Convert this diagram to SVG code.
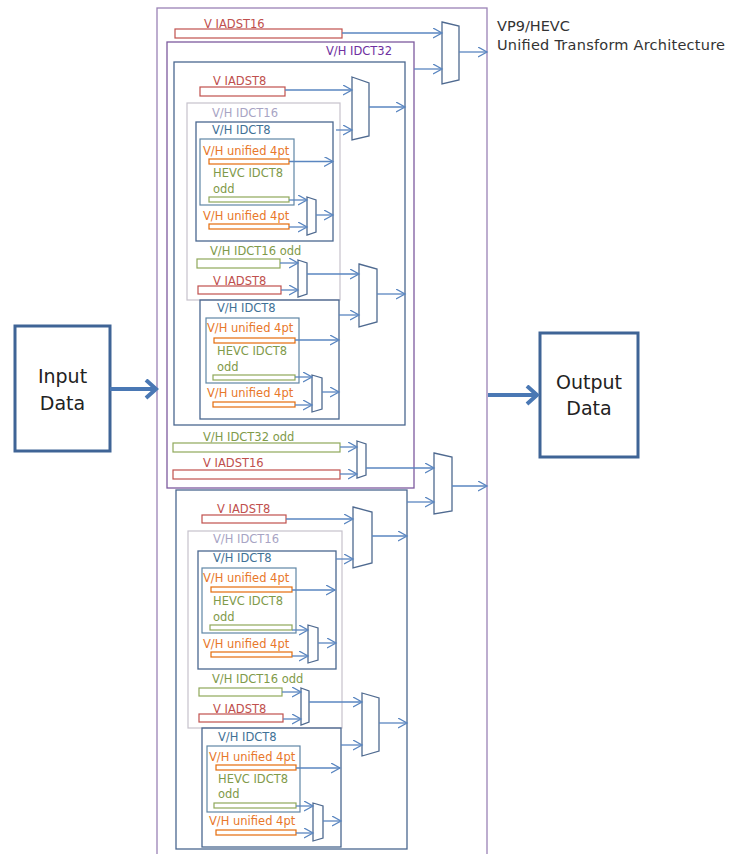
<svg xmlns="http://www.w3.org/2000/svg" width="730" height="854" viewBox="0 0 730 854">
<defs>
<marker id="ah" markerUnits="userSpaceOnUse" markerWidth="12" markerHeight="12" refX="9" refY="5" orient="auto" viewBox="0 0 12 12">
<path d="M0,0 L9,5 L0,10" fill="none" stroke="#5a86c0" stroke-width="1.3"/>
</marker>
<marker id="ahb" markerUnits="userSpaceOnUse" markerWidth="20" markerHeight="24" refX="13" refY="10" orient="auto" viewBox="0 0 20 24">
<path d="M3,1 L13,10 L3,19" fill="none" stroke="#4a78b4" stroke-width="4" stroke-linejoin="miter"/>
</marker>
</defs>
<style>
text{font-family:"DejaVu Sans","Liberation Sans",sans-serif;font-size:11.5px}
.outer{fill:none;stroke:#9a82b6;stroke-width:1.3}
.p32{fill:none;stroke:#7d5a9e;stroke-width:1.3}
.bx{fill:none;stroke:#4a6790;stroke-width:1.3}
.b16{fill:none;stroke:#c6c2cc;stroke-width:1.2}
.ub{fill:none;stroke:#5f86a6;stroke-width:1.2}
.rb{fill:#fff;stroke:#c0504d;stroke-width:1.2}
.ob{fill:#fff;stroke:#e46c0a;stroke-width:1.2}
.gb{fill:#fff;stroke:#8fa85a;stroke-width:1.2}
.mux{fill:#fff;stroke:#4f6a90;stroke-width:1.3}
.tr{fill:#c0504d}
.to{fill:#e8782a}
.tg{fill:#7f9a4a}
.tp{fill:#7030a0}
.t16{fill:#a8a4c4}
.t8{fill:#3f7196}
.io{fill:#fff;stroke:#3f6496;stroke-width:3}
.iot{font-size:19px;fill:#222;text-anchor:middle}
.ttl{font-size:14.5px;fill:#333}
#conn line{stroke:#5a86c0;stroke-width:1.3;marker-end:url(#ah)}
#conn line.big{stroke:#4a78b4;stroke-width:4;marker-end:url(#ahb)}
</style>

<g id="outer-box">
<rect class="outer" x="157" y="8" width="330" height="870"/>
</g>
<g id="title">
<text class="ttl" x="497" y="31">VP9/HEVC</text>
<text class="ttl" x="497" y="50" textLength="228" lengthAdjust="spacing">Unified Transform Architecture</text>
</g>

<g id="input-data">
<rect class="io" x="15" y="326" width="95" height="125"/>
<text class="iot" x="62.5" y="383">Input</text>
<text class="iot" x="62.5" y="410">Data</text>
</g>
<g id="output-data">
<rect class="io" x="540" y="333" width="98" height="124"/>
<text class="iot" x="589" y="389">Output</text>
<text class="iot" x="589" y="415">Data</text>
</g>

<g id="v-iadst16-top">
<rect class="rb" x="175" y="29" width="167" height="9"/>
<text class="tr" x="204" y="28">V IADST16</text>
</g>
<g id="mux-top">
<polygon class="mux" points="442,22 459,26 459,80 442,84"/>
</g>

<g id="idct32">
<rect class="p32" x="167" y="42" width="247" height="446"/>
<text class="tp" x="326" y="55">V/H IDCT32</text>
</g>

<g id="box-a">
<rect class="bx" x="174" y="62" width="231" height="363"/>
</g>
<g id="a-iadst8">
<rect class="rb" x="200" y="87" width="85" height="9"/>
<text class="tr" x="213" y="85">V IADST8</text>
</g>
<g id="a-mux2"><polygon class="mux" points="352,77 369,83 369,136 352,140"/></g>
<g id="a-idct16">
<rect class="b16" x="187" y="103" width="153" height="197"/>
<text class="t16" x="212" y="117">V/H IDCT16</text>
</g>
<g id="a-idct8">
<rect class="bx" x="196" y="122" width="137" height="119"/>
<text class="t8" x="212" y="134">V/H IDCT8</text>
</g>
<g id="a-unified">
<rect class="ub" x="200" y="139" width="94" height="66"/>
<text class="to" x="203" y="155">V/H unified 4pt</text>
<rect class="ob" x="209" y="159" width="80" height="5"/>
<text class="tg" x="213" y="177">HEVC IDCT8</text>
<text class="tg" x="213" y="193">odd</text>
<rect class="gb" x="209" y="197" width="80" height="5"/>
</g>
<g id="a-unified4b">
<text class="to" x="203" y="220">V/H unified 4pt</text>
<rect class="ob" x="209" y="224" width="80" height="5"/>
</g>
<g id="a-mux3"><polygon class="mux" points="307,197 316,200 316,232 307,235"/></g>
<g id="a-idct16odd">
<text class="tg" x="210" y="255">V/H IDCT16 odd</text>
<rect class="gb" x="197" y="259" width="83" height="9"/>
</g>
<g id="a-iadst8b">
<text class="tr" x="213" y="285">V IADST8</text>
<rect class="rb" x="198" y="286" width="83" height="8"/>
</g>
<g id="a-mux4"><polygon class="mux" points="298,260 307,263 307,294 298,297"/></g>
<g id="a-mux5"><polygon class="mux" points="359,264 377,269 377,322 359,327"/></g>
<g id="a-idct8b">
<rect class="bx" x="200" y="300" width="139" height="119"/>
<text class="t8" x="217" y="312">V/H IDCT8</text>
</g>
<g id="a-unifiedb">
<rect class="ub" x="206" y="318" width="93" height="65"/>
<text class="to" x="207" y="332">V/H unified 4pt</text>
<rect class="ob" x="214" y="338" width="81" height="5"/>
<text class="tg" x="217" y="355">HEVC IDCT8</text>
<text class="tg" x="217" y="371">odd</text>
<rect class="gb" x="213" y="375" width="82" height="5"/>
</g>
<g id="a-unified4d">
<text class="to" x="207" y="397">V/H unified 4pt</text>
<rect class="ob" x="213" y="402" width="82" height="5"/>
</g>
<g id="a-mux6"><polygon class="mux" points="312,375 322,378 322,409 312,412"/></g>

<g id="idct32odd">
<text class="tg" x="203" y="441">V/H IDCT32 odd</text>
<rect class="gb" x="173" y="443" width="167" height="9"/>
</g>
<g id="v-iadst16b">
<text class="tr" x="203" y="467">V IADST16</text>
<rect class="rb" x="173" y="470" width="167" height="9"/>
</g>
<g id="mux7"><polygon class="mux" points="357,441 366,444 366,475 357,478"/></g>
<g id="mux8"><polygon class="mux" points="434,453 452,457 452,511 434,514"/></g>

<g id="box-b">
<rect class="bx" x="176" y="490" width="231" height="359"/>
</g>
<g id="b-iadst8">
<text class="tr" x="217" y="513">V IADST8</text>
<rect class="rb" x="202" y="515" width="84" height="8"/>
</g>
<g id="b-mux9"><polygon class="mux" points="353,507 372,512 372,563 353,568"/></g>
<g id="b-idct16">
<rect class="b16" x="188" y="531" width="154" height="197"/>
<text class="t16" x="213" y="543">V/H IDCT16</text>
</g>
<g id="b-idct8">
<rect class="bx" x="198" y="551" width="138" height="118"/>
<text class="t8" x="213" y="562">V/H IDCT8</text>
</g>
<g id="b-unified">
<rect class="ub" x="202" y="568" width="94" height="65"/>
<text class="to" x="203" y="582">V/H unified 4pt</text>
<rect class="ob" x="211" y="587" width="81" height="5"/>
<text class="tg" x="213" y="605">HEVC IDCT8</text>
<text class="tg" x="213" y="621">odd</text>
<rect class="gb" x="210" y="625" width="82" height="5"/>
</g>
<g id="b-unified4b">
<text class="to" x="203" y="648">V/H unified 4pt</text>
<rect class="ob" x="211" y="652" width="81" height="5"/>
</g>
<g id="b-mux10"><polygon class="mux" points="308,625 318,628 318,660 308,663"/></g>
<g id="b-idct16odd">
<text class="tg" x="212" y="683">V/H IDCT16 odd</text>
<rect class="gb" x="199" y="688" width="83" height="8"/>
</g>
<g id="b-iadst8b">
<text class="tr" x="213" y="713">V IADST8</text>
<rect class="rb" x="199" y="714" width="84" height="8"/>
</g>
<g id="b-mux11"><polygon class="mux" points="301,688 309,691 309,722 301,725"/></g>
<g id="b-mux12"><polygon class="mux" points="362,693 379,698 379,751 362,756"/></g>
<g id="b-idct8b">
<rect class="bx" x="202" y="728" width="139" height="119"/>
<text class="t8" x="218" y="741">V/H IDCT8</text>
</g>
<g id="b-unifiedb">
<rect class="ub" x="207" y="746" width="93" height="66"/>
<text class="to" x="209" y="761">V/H unified 4pt</text>
<rect class="ob" x="216" y="765" width="80" height="5"/>
<text class="tg" x="218" y="783">HEVC IDCT8</text>
<text class="tg" x="218" y="798">odd</text>
<rect class="gb" x="214" y="803" width="82" height="5"/>
</g>
<g id="b-unified4d">
<text class="to" x="209" y="825">V/H unified 4pt</text>
<rect class="ob" x="216" y="830" width="80" height="5"/>
</g>
<g id="b-mux13"><polygon class="mux" points="313,803 323,806 323,838 313,841"/></g>

<g id="conn">
<line class="big" x1="110" y1="389" x2="156" y2="389"/>
<line class="big" x1="488" y1="395" x2="537" y2="395"/>
<line x1="342" y1="33" x2="442" y2="33"/>
<line x1="414" y1="69" x2="442" y2="69"/>
<line x1="459" y1="52" x2="487" y2="52"/>
<line x1="285" y1="90" x2="352" y2="90"/>
<line x1="336" y1="130" x2="352" y2="130"/>
<line x1="369" y1="107" x2="405" y2="107"/>
<line x1="289" y1="161.5" x2="333" y2="161.5"/>
<line x1="289" y1="200" x2="307" y2="200"/>
<line x1="289" y1="227" x2="307" y2="227"/>
<line x1="316" y1="215" x2="333" y2="215"/>
<line x1="280" y1="263" x2="298" y2="263"/>
<line x1="281" y1="290" x2="298" y2="290"/>
<line x1="307" y1="274" x2="359" y2="274"/>
<line x1="377" y1="294" x2="405" y2="294"/>
<line x1="339" y1="315" x2="359" y2="315"/>
<line x1="295" y1="340" x2="339" y2="340"/>
<line x1="295" y1="377" x2="312" y2="377"/>
<line x1="295" y1="405" x2="312" y2="405"/>
<line x1="322" y1="392" x2="339" y2="392"/>
<line x1="340" y1="447" x2="357" y2="447"/>
<line x1="340" y1="474" x2="357" y2="474"/>
<line x1="366" y1="468" x2="434" y2="468"/>
<line x1="452" y1="486" x2="487" y2="486"/>
<line x1="407" y1="502" x2="434" y2="502"/>
<line x1="286" y1="519" x2="353" y2="519"/>
<line x1="372" y1="536" x2="407" y2="536"/>
<line x1="336" y1="559" x2="353" y2="559"/>
<line x1="292" y1="590" x2="335" y2="590"/>
<line x1="292" y1="630" x2="308" y2="630"/>
<line x1="292" y1="656" x2="308" y2="656"/>
<line x1="318" y1="643" x2="336" y2="643"/>
<line x1="282" y1="692" x2="301" y2="692"/>
<line x1="283" y1="719" x2="301" y2="719"/>
<line x1="309" y1="702" x2="362" y2="702"/>
<line x1="379" y1="723" x2="407" y2="723"/>
<line x1="341" y1="745" x2="362" y2="745"/>
<line x1="296" y1="768" x2="340" y2="768"/>
<line x1="296" y1="806" x2="313" y2="806"/>
<line x1="296" y1="833" x2="313" y2="833"/>
<line x1="323" y1="821" x2="341" y2="821"/>
</g>
</svg>
